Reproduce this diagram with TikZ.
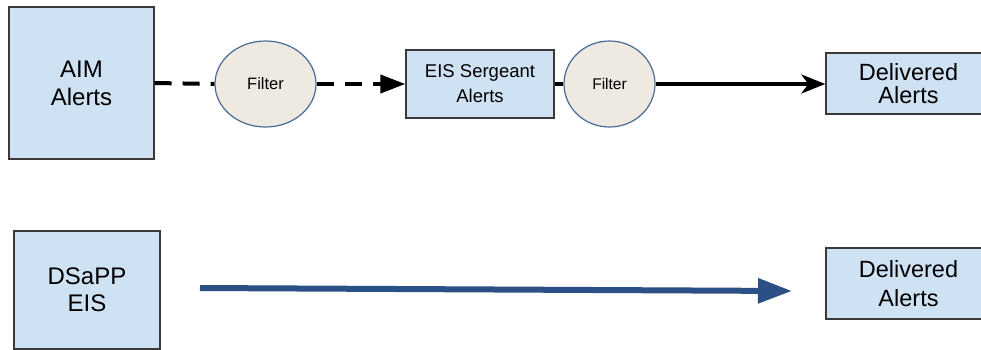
\documentclass[tikz,border=0pt]{standalone}
\usepackage{fontspec}
\setmainfont{Liberation Sans}
\usetikzlibrary{shapes.geometric,arrows.meta}
\definecolor{boxfill}{HTML}{CFE2F3}
\definecolor{boxline}{HTML}{3A3A3A}
\definecolor{ellfill}{HTML}{EEEAE2}
\definecolor{ellline}{HTML}{4A6B94}
\definecolor{bluearrow}{HTML}{2B5086}
\tikzset{
  blkbox/.style={draw=boxline, fill=boxfill, line width=1.3pt, inner sep=0pt, align=center},
  filt/.style={ellipse, draw=ellline, fill=ellfill, line width=1.2pt, inner sep=0pt},
  dashconn/.style={line width=4pt, dash pattern=on 17pt off 11pt},
  solidconn/.style={line width=3.2pt},
}
\begin{document}
\begin{tikzpicture}[x=1pt,y=-1pt]
\useasboundingbox (0,0) rectangle (981,349);
\node[blkbox, minimum width=145pt, minimum height=152pt, font=\fontsize{24}{28}\selectfont] (aim) at (81.5,83) {AIM\\Alerts};
\node[filt, minimum width=101pt, minimum height=86pt, font=\fontsize{16.5}{18}\selectfont] (f1) at (265.5,84) {Filter};
\node[blkbox, minimum width=148pt, minimum height=68pt, font=\fontsize{18.5}{25}\selectfont] (eis) at (480,84) {EIS Sergeant\\Alerts};
\node[filt, minimum width=91pt, minimum height=86pt, font=\fontsize{15.5}{18}\selectfont] (f2) at (609.5,84) {Filter};
\node[blkbox, minimum width=165pt, minimum height=61pt, font=\fontsize{23.5}{23}\selectfont] (del1) at (908.5,83.5) {Delivered\\Alerts};
\node[blkbox, minimum width=146pt, minimum height=118pt, font=\fontsize{24}{27}\selectfont] (dsapp) at (87,290) {DSaPP\\EIS};
\node[blkbox, minimum width=165pt, minimum height=71pt, font=\fontsize{23.5}{29}\selectfont] (del2) at (908.5,283.5) {Delivered\\Alerts};
\coordinate (bstart) at (200,288);
\coordinate (bend) at (792,291);
\draw[dashconn] (aim.east) -- (f1.west);
\draw[dashconn, -{Triangle[length=25pt,width=18pt]}] (f1.east) -- (eis.west);
\draw[solidconn] (eis.east) -- (f2.west);
\draw[solidconn, -{Stealth[length=24pt,width=19pt,inset=7pt]}] (f2.east) -- (del1.west |- f2.east);
\draw[bluearrow, line width=6pt, -{Triangle[length=34pt,width=24pt]}] (bstart) -- (bend);
\end{tikzpicture}
\end{document}
